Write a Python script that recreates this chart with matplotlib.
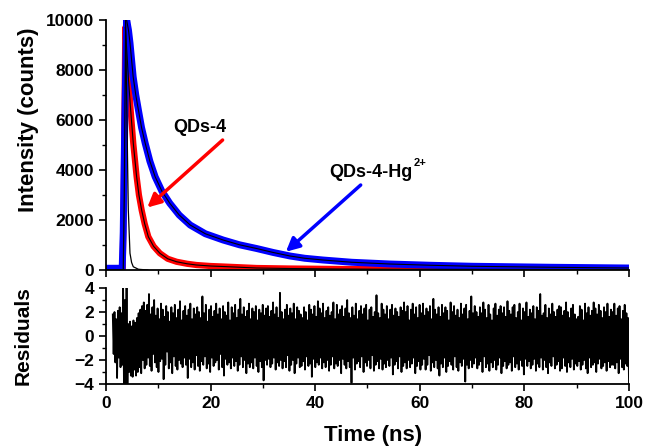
import numpy as np
import matplotlib
matplotlib.use('Agg')
import matplotlib.pyplot as plt
from matplotlib.ticker import MultipleLocator

plt.rcParams['font.family'] = ['Liberation Sans', 'DejaVu Sans']
plt.rcParams['font.weight'] = 'bold'

# decay curves (time in ns, counts)
blue_t = [0, 3.1, 3.3, 3.6, 3.95, 4.3, 4.6, 5.2, 5.7, 6.2, 6.8, 7.5, 8.4, 9.4, 10.7, 12.2, 14.0, 16.1,
          19.0, 22.4, 25.5, 28.8, 32.0, 35.2, 38.0, 41.5, 47.0, 54.3, 62.0, 70.0, 85.0, 100.0]
blue_c = [70, 70, 1500, 6000, 10000, 9600, 9070, 7730, 7000, 6400, 5700, 5070, 4350, 3730, 3150, 2670, 2200, 1800,
          1450, 1200, 1010, 860, 700, 560, 470, 400, 310, 240, 190, 150, 110, 80]

red_t = [0, 3.2, 3.4, 3.7, 4.0, 4.27, 4.72, 5.22, 5.86, 6.3, 6.82, 7.4, 8.1, 9.1, 10.3, 11.8, 13.5, 15.5,
         17.3, 20.0, 22.4, 28.8, 35.0, 45.0, 55.0, 75.0, 100.0]
red_c = [40, 40, 3000, 9700, 8700, 7730, 6400, 5070, 3730, 3000, 2400, 1850, 1330, 950, 670, 450, 330, 250,
         200, 160, 140, 80, 60, 40, 30, 25, 20]

irf_t = [0, 3.3, 3.5, 3.76, 3.95, 4.08, 4.27, 4.59, 4.9, 5.22, 6.2, 8.0]
irf_c = [0, 0, 3000, 10000, 7000, 5070, 2400, 670, 300, 130, 30, 0]

# residuals in tenths, read left to right from 1.3 ns to 100 ns
res_tenths = [
    18, -15, 20, -22, 14, -35, 21, -18, 24, -26, 19, -24, 42, -42, 30, -42, 42, -42, 10, -30,
    12, -33, 8, -34, 13, -28, 11, -33, 15, -30, 19, -26, 22, -31, 25, -20, 28, -27, 21, -24,
    26, -18, 35, -25, 18, -29, 24, -15, 30, -22, 17, -26, 23, -30, 14, -21, 27, -19, 22, -36,
    16, -24, 25, -13, 20, -27, 12, -22, 24, -31, 19, -17, 26, -25, 15, -28, 22, -20, 29, -23,
    13, -26, 21, -18, 25, -24, 17, -35, 22, -19, 27, -26, 14, -22, 23, -28, 18, -16, 24, -25,
    20, -29, 15, -21, 33, -24, 19, -17, 26, -27, 12, -23, 22, -30, 25, -18, 16, -25, 21, -22,
    27, -20, 18, -28, 23, -15, 14, -26, 25, -33, 20, -19, 17, -24, 28, -22, 13, -27, 24, -18,
    19, -25, 26, -21, 15, -29, 22, -24, 31, -17, 18, -26, 24, -20, 16, -31, 21, -23, 27, -26,
    14, -22, 23, -27, 20, -18, 25, -25, 13, -30, 22, -21, 19, -26, 26, -37, 17, -20, 23, -24,
    25, -19, 16, -26, 21, -23, 28, -18, 18, -28, 24, -22, 15, -25, 36, -20, 20, -27, 14, -21,
    22, -26, 26, -16, 17, -29, 23, -24, 19, -20, 27, -31, 14, -23, 24, -18, 21, -26, 18, -25,
    15, -21, 24, -28, 20, -17, 13, -25, 26, -23, 22, -34, 18, -19, 25, -26, 16, -22, 29, -24,
    23, -18, 19, -27, 27, -22, 15, -26, 21, -20, 24, -29, 17, -24, 20, -17, 28, -27, 14, -23,
    26, -25, 18, -20, 22, -31, 25, -19, 16, -24, 23, -27, 30, -21, 19, -26, 15, -39, 24, -18,
    17, -28, 27, -23, 14, -21, 21, -26, 25, -17, 18, -30, 23, -22, 26, -25, 13, -20, 22, -27,
    24, -16, 16, -29, 20, -24, 34, -21, 19, -27, 15, -19, 27, -28, 22, -23, 18, -26, 25, -20,
    14, -25, 22, -18, 26, -32, 17, -24, 23, -21, 20, -27, 16, -17, 24, -30, 21, -25, 28, -22,
    20, -27, 25, -20, 13, -26, 22, -23, 27, -18, 18, -31, 24, -25, 15, -21, 26, -28, 19, -24,
    27, -19, 17, -28, 23, -24, 20, -16, 25, -29, 14, -22, 31, -26, 22, -20, 18, -27, 24, -33,
    16, -23, 26, -26, 19, -18, 24, -30, 21, -25, 13, -21, 28, -24, 20, -28, 25, -17, 17, -26,
    22, -29, 15, -22, 27, -25, 18, -19, 23, -38, 26, -24, 14, -27, 21, -20, 33, -26, 19, -23,
    25, -18, 20, -27, 16, -24, 24, -21, 19, -30, 28, -17, 22, -26, 15, -23, 26, -29, 18, -22,
    13, -26, 23, -20, 27, -28, 17, -24, 22, -18, 25, -31, 19, -25, 24, -21, 16, -27, 29, -24,
    21, -22, 18, -29, 24, -17, 26, -26, 15, -23, 20, -28, 27, -20, 13, -25, 23, -32, 20, -19,
    28, -25, 16, -21, 22, -27, 19, -24, 25, -19, 14, -29, 24, -23, 21, -26, 35, -18, 17, -28,
    19, -20, 26, -26, 15, -31, 23, -22, 18, -25, 27, -17, 20, -27, 16, -24, 22, -21, 25, -29,
    24, -27, 17, -18, 21, -25, 28, -30, 20, -22, 15, -26, 23, -19, 26, -28, 18, -23, 14, -25,
    16, -21, 25, -28, 22, -24, 13, -20, 27, -27, 19, -31, 24, -18, 17, -26, 21, -24, 28, -22,
    23, -30, 18, -23, 26, -19, 21, -27, 15, -25, 24, -22, 20, -29, 27, -21, 16, -26, 22, -24,
    20, -24, 27, -27, 17, -22, 23, -31, 25, -19, 14, -26, 21, -28, 26, -23, 19, -25, 15, -40,
]
res = np.array(res_tenths) / 10.0
res_t = np.linspace(1.3, 100, len(res))

fig = plt.figure(figsize=(6.45, 4.46), dpi=100)
ax1 = fig.add_axes([0.1643, 0.3946, 0.8109, 0.5605])
ax2 = fig.add_axes([0.1643, 0.1390, 0.8109, 0.2152])

# top panel: data (thick) with black fits on top
pk_b = int(np.argmax(blue_c))
pk_r = int(np.argmax(red_c))
ax1.plot(red_t, red_c, color='red', lw=4.5, solid_capstyle='butt')
ax1.plot(blue_t, blue_c, color='blue', lw=5, solid_capstyle='butt')
ax1.plot(red_t[pk_r:], red_c[pk_r:], color='black', lw=0.8)
ax1.plot(blue_t[pk_b:], blue_c[pk_b:], color='black', lw=0.8)
ax1.plot(irf_t, irf_c, color='black', lw=0.9)

ax1.set_xlim(0, 100)
ax1.set_ylim(0, 10000)
ax1.xaxis.set_major_locator(MultipleLocator(20))
ax1.xaxis.set_minor_locator(MultipleLocator(10))
ax1.yaxis.set_major_locator(MultipleLocator(2000))
ax1.yaxis.set_minor_locator(MultipleLocator(1000))
ax1.tick_params(axis='x', labelbottom=False)
ax1.set_ylabel('Intensity (counts)', fontsize=16, fontweight='bold')
ax1.yaxis.set_label_coords(-0.128, 0.6)

# labels + arrows
ax1.text(18.0, 5720, 'QDs-4', fontsize=13, fontweight='bold', ha='center', va='center')
ax1.annotate('', xy=(7.9, 2500), xytext=(22.3, 5200),
             arrowprops=dict(arrowstyle='-|>', color='red', lw=2.5, mutation_scale=20,
                             shrinkA=0, shrinkB=0))
ax1.text(58.7, 3920, 'QDs-4-Hg', fontsize=13, fontweight='bold', ha='right', va='center')
ax1.text(58.8, 4300, '2+', fontsize=8, fontweight='bold', ha='left', va='center')
ax1.annotate('', xy=(34.4, 730), xytext=(48.7, 3400),
             arrowprops=dict(arrowstyle='-|>', color='blue', lw=2.5, mutation_scale=20,
                             shrinkA=0, shrinkB=0))

# residuals panel
ax2.plot(res_t, res, color='black', lw=1.3)
ax2.set_xlim(0, 100)
ax2.set_ylim(-4, 4)
ax2.xaxis.set_major_locator(MultipleLocator(20))
ax2.xaxis.set_minor_locator(MultipleLocator(10))
ax2.yaxis.set_major_locator(MultipleLocator(2))
ax2.yaxis.set_minor_locator(MultipleLocator(1))
ax2.set_ylabel('Residuals', fontsize=15, fontweight='bold')
ax2.yaxis.set_label_coords(-0.14, 0.5)
ax2.set_xlabel('Time (ns)', fontsize=16, fontweight='bold')
ax2.xaxis.set_label_coords(0.51, -0.43)

for ax in (ax1, ax2):
    for s in ('top', 'right'):
        ax.spines[s].set_visible(False)
    for s in ('left', 'bottom'):
        ax.spines[s].set_linewidth(1.3)
    ax.tick_params(which='major', direction='out', length=5, width=1.2, labelsize=12.5)
    ax.tick_params(which='minor', direction='out', length=3, width=1.0)
    for lab in ax.get_xticklabels() + ax.get_yticklabels():
        lab.set_fontweight('bold')

fig.savefig('out.png', dpi=100)
